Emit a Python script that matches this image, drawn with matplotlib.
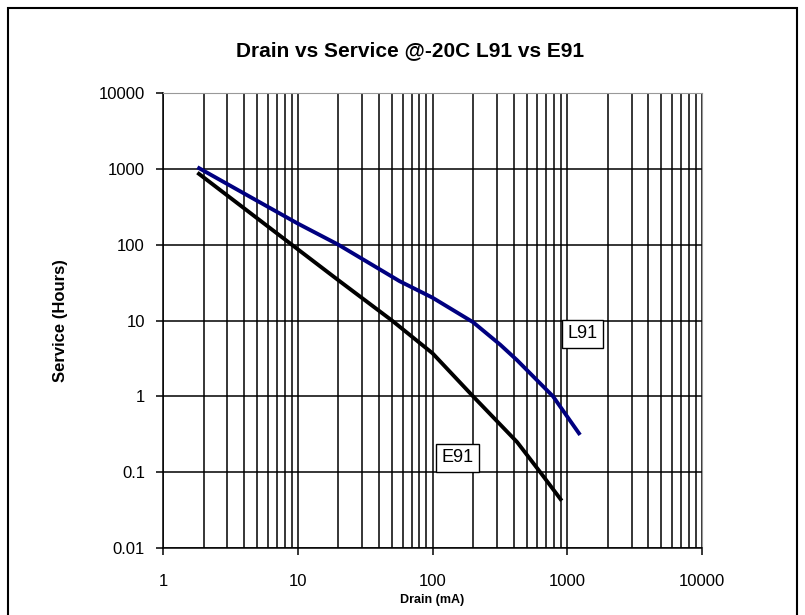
import matplotlib
matplotlib.use("Agg")
from matplotlib import pyplot as plt
from matplotlib.patches import Rectangle
from matplotlib.ticker import FixedLocator, NullFormatter

plt.rcParams['font.family'] = ['Liberation Sans', 'DejaVu Sans']

# data (drain in mA, service in hours)
l91_drain = [1.8, 4.4, 10, 20, 57, 100, 200, 318, 424, 784, 1245]
l91_hours = [1050, 430, 190, 100, 33, 20, 9.5, 4.8, 3.0, 1.0, 0.31]
e91_drain = [1.8, 4.4, 10, 20, 50, 100, 200, 424, 630, 910]
e91_hours = [890, 265, 87, 34, 10, 3.7, 1.0, 0.25, 0.1, 0.042]

x_ticks = [1, 10, 100, 1000, 10000]
y_ticks = [0.01, 0.1, 1, 10, 100, 1000, 10000]
y_labels = ["0.01", "0.1", "1", "10", "100", "1000", "10000"]

fig = plt.figure(figsize=(8.05, 6.15), dpi=100)
ax = fig.add_axes([163/805, 1-548/615, (702-163)/805, (548-93)/615])

ax.set_xscale('log')
ax.set_yscale('log')
ax.set_xlim(1, 10000)
ax.set_ylim(0.01, 10000)

ax.plot(l91_drain, l91_hours, color='#000080', lw=2.8, solid_capstyle='butt',
        solid_joinstyle='round', zorder=3)
ax.plot(e91_drain, e91_hours, color='black', lw=2.8, solid_capstyle='butt',
        solid_joinstyle='round', zorder=3)

# grid: all decades + minor on x, decades only on y
minors = [m * 10**d for d in range(4) for m in range(2, 10)]
ax.xaxis.set_major_locator(FixedLocator(x_ticks))
ax.xaxis.set_minor_locator(FixedLocator(minors))
ax.xaxis.set_minor_formatter(NullFormatter())
ax.set_xticks(x_ticks)
ax.set_xticklabels([str(v) for v in x_ticks])
ax.yaxis.set_major_locator(FixedLocator(y_ticks))
ax.yaxis.set_minor_locator(FixedLocator([]))
ax.set_yticklabels(y_labels)
ax.grid(True, which='major', color='black', lw=1.1)
ax.grid(True, which='minor', axis='x', color='black', lw=1.1)
ax.tick_params(which='major', direction='out', length=5, width=1.1, labelsize=12)
ax.tick_params(axis='x', which='major', pad=14)
ax.tick_params(axis='y', which='major', pad=8)
ax.tick_params(which='minor', length=0)

for s in ['top', 'right']:
    ax.spines[s].set_color('#999999')
for s in ['left', 'bottom']:
    ax.spines[s].set_color('black')
    ax.spines[s].set_linewidth(1.1)

ax.text(1290, 6.65, "L91", fontsize=13, ha='center', va='center', zorder=4,
        bbox=dict(boxstyle='square,pad=0.3', fc='white', ec='black', lw=1))
ax.text(154, 0.154, "E91", fontsize=13, ha='center', va='center', zorder=4,
        bbox=dict(boxstyle='square,pad=0.3', fc='white', ec='black', lw=1))

fig.text(0.51, 1-51/615, "Drain vs Service @-20C L91 vs E91", ha='center', va='center',
         fontsize=15, fontweight='bold')
ax.set_ylabel("Service (Hours)", fontsize=12, fontweight='bold', labelpad=22)
ax.set_xlabel("Drain (mA)", fontsize=9, fontweight='bold', labelpad=3)

fig.patches.append(Rectangle((8/805, -0.05), (797-8)/805, 1.05-8/615,
                             transform=fig.transFigure, fill=False, ec='black', lw=1.5))

fig.savefig("out.png", dpi=100)
